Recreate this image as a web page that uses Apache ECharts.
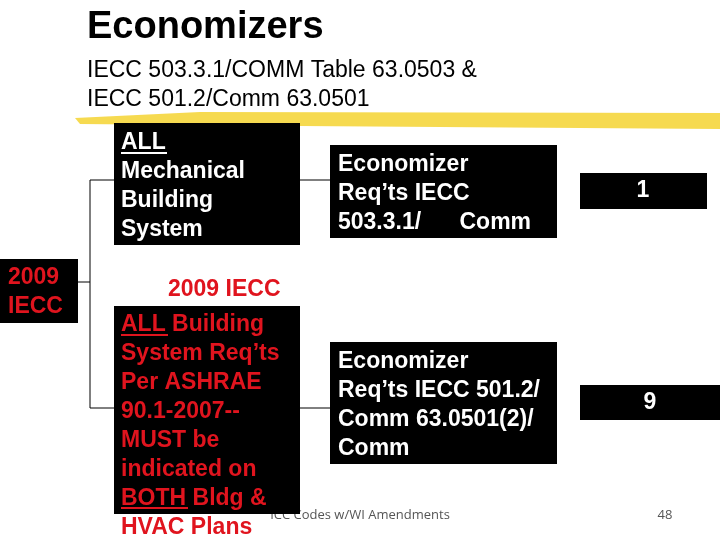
<!DOCTYPE html>
<html>
<head>
<meta charset="utf-8">
<script src="https://cdn.jsdelivr.net/npm/echarts@6/dist/echarts.min.js"></script>
<style>html,body{margin:0;padding:0;background:#fff}#container{width:720px;height:540px}</style>
</head>
<body>
<div id="container"></div>
<script>
// Texte der Folie
var titleText = 'Economizers';
var subtitleLines = ['IECC 503.3.1/COMM Table 63.0503 &', 'IECC 501.2/Comm 63.0501'];
var rootText = '2009\nIECC';
var boxAText = 'ALL\nMechanical\nBuilding\nSystem';
var boxBText = 'ALL Building\nSystem Req\u2019ts\nPer ASHRAE\n90.1-2007--\nMUST be\nindicated on\nBOTH Bldg &\nHVAC Plans';
var boxCText = 'Economizer\nReq\u2019ts IECC\n503.3.1/      Comm';
var boxDText = 'Economizer\nReq\u2019ts IECC 501.2/\nComm 63.0501(2)/\nComm';
var countLabels = ['1', '9'];
var midLabel = '2009 IECC';
var footerText = 'ICC Codes w/WI Amendments';
var pageNo = '48';

var dom = document.getElementById('container');
var myChart = echarts.init(dom, null, { renderer: 'canvas' });

var font = '"Liberation Sans", Arial, sans-serif';
function box(x, y, w, h) {
    return { type: 'rect', shape: { x: x, y: y, width: w, height: h }, style: { fill: '#000' } };
}
function txt(x, y, t, color, size, lh, extra) {
    var s = { text: t, x: x, y: y, fill: color, font: 'bold ' + size + 'px ' + font, lineHeight: lh };
    if (extra) for (var k in extra) s[k] = extra[k];
    return { type: 'text', style: s };
}
function line(x1, y1, x2, y2, color, w) {
    return { type: 'line', shape: { x1: x1, y1: y1, x2: x2, y2: y2 }, style: { stroke: color || '#000', lineWidth: w || 1 } };
}

var elements = [
    // Footer hinter Box B
    { type: 'text', style: { text: footerText, x: 360, y: 515, align: 'center', verticalAlign: 'middle', fill: '#555', font: '13px "Open Sans", sans-serif' } },
    { type: 'text', style: { text: pageNo, x: 665, y: 515, align: 'center', verticalAlign: 'middle', fill: '#555', font: '13px "Open Sans", sans-serif' } },
    // gelber Pinselstrich
    { type: 'polygon', shape: { points: [[75, 118], [200, 112], [720, 113], [720, 129], [300, 126], [80, 124]] }, style: { fill: '#f5d63d', opacity: 0.9 } },
    txt(87, 7, titleText, '#000', 38, 42),
    txt(87, 56, subtitleLines[0], '#000', 23, 29, { font: '23px ' + font }),
    txt(87, 85, subtitleLines[1], '#000', 23, 29, { font: '23px ' + font }),
    // Verbindungslinien
    line(78, 282, 90, 282), line(90, 180, 90, 408),
    line(90, 180, 114, 180), line(90, 408, 114, 408),
    line(300, 180, 330, 180), line(300, 408, 330, 408),
    box(0, 259, 78, 64), txt(8, 263, rootText, '#e0141e', 23, 29),
    box(114, 123, 186, 122), txt(121, 128, boxAText, '#fff', 23, 29),
    line(121, 153, 167, 153, '#fff', 2),
    txt(168, 275, midLabel, '#e0141e', 23, 29),
    box(114, 306, 186, 208), txt(121, 310, boxBText, '#e0141e', 23, 29),
    line(121, 335, 168, 335, '#e0141e', 2), line(121, 508, 188, 508, '#e0141e', 2),
    box(330, 145, 227, 93), txt(338, 150, boxCText, '#fff', 23, 29),
    box(330, 342, 227, 122), txt(338, 347, boxDText, '#fff', 23, 29),
    box(580, 173, 127, 36), txt(643, 191, countLabels[0], '#fff', 23, 29, { align: 'center', verticalAlign: 'middle' }),
    box(580, 385, 140, 35), txt(650, 403, countLabels[1], '#fff', 23, 29, { align: 'center', verticalAlign: 'middle' })
];

myChart.setOption({ animation: false, graphic: { elements: elements } });
</script>
</body>
</html>
